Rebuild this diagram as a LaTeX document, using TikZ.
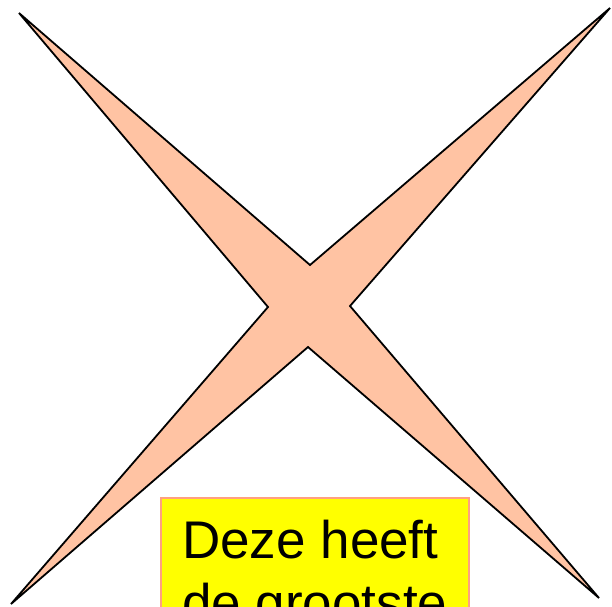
\documentclass[tikz,border=0pt]{standalone}
\usepackage{fontspec}
\setmainfont{Liberation Sans}
\definecolor{starfill}{RGB}{255,195,163}
\definecolor{boxborder}{RGB}{255,160,128}
\definecolor{boxfill}{RGB}{255,255,0}
\tikzset{
  star/.style={fill=starfill, draw=black, line width=1.8pt, line join=miter},
  notebox/.style={fill=boxfill, draw=boxborder, line width=1.6pt},
  notetext/.style={anchor=base west, inner sep=0pt, font=\fontsize{53}{63}\selectfont}
}
\begin{document}
\begin{tikzpicture}[x=1pt,y=-1pt]
\useasboundingbox (0,0) rectangle (612,606);
\clip (0,0) rectangle (612,606);
\coordinate (tl) at (19,13);
\coordinate (ti) at (310,265);
\coordinate (tr) at (610,8);
\coordinate (ri) at (350,306);
\coordinate (br) at (599,598);
\coordinate (bi) at (308,347);
\coordinate (bl) at (11,604);
\coordinate (li) at (268,307);
\draw[star] (tl) -- (ti) -- (tr) -- (ri) -- (br) -- (bi) -- (bl) -- (li) -- cycle;
\draw[notebox] (161,498) rectangle (469,640);
\node[notetext] (l1) at (182,558) {Deze heeft};
\node[notetext] (l2) at (182,621) {de grootste};
\end{tikzpicture}
\end{document}
